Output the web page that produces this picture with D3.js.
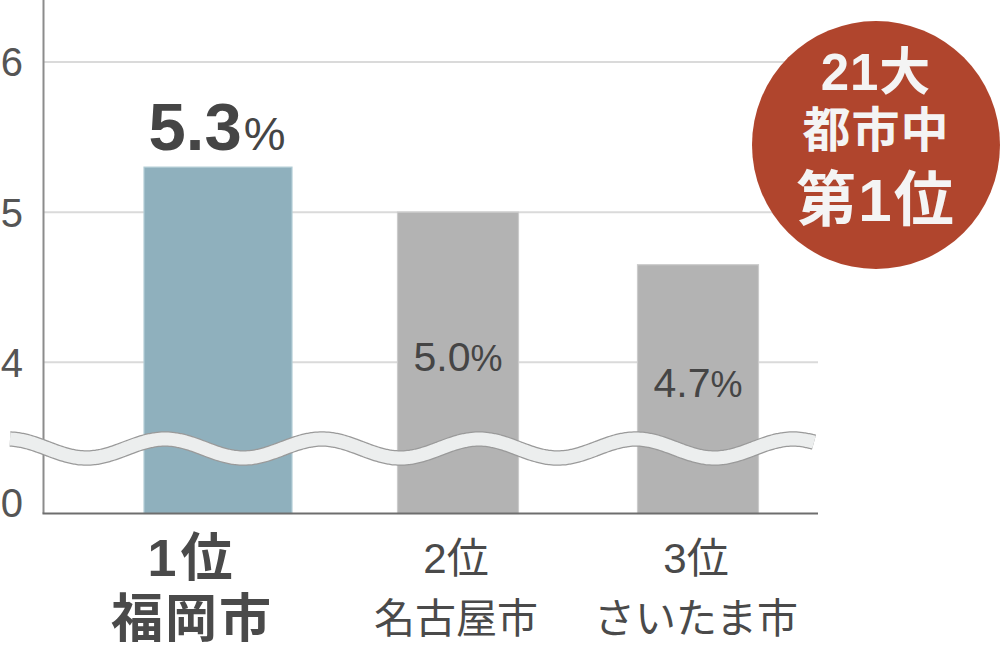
<!DOCTYPE html>
<html><head><meta charset="utf-8">
<script src="https://cdn.jsdelivr.net/npm/d3@7"></script>
<style>html,body{margin:0;padding:0;background:#fff}svg{display:block}</style>
</head><body>
<script>
// ---- data ----
const ranks = ["1位", "2位", "3位"];
const cities = ["福岡市", "名古屋市", "さいたま市"];
const values = [5.3, 5.0, 4.65];
const valueLabels = ["5.3", "5.0", "4.7"];
const yTicks = [6, 5, 4, 3];
const yTickLabels = ["6", "5", "4", "0"];
const badgeLines = ["21大", "都市中", "第1位"];

const W = 1000, H = 647;
const svg = d3.select("body").append("svg").attr("width", W).attr("height", H);
const font = "'Liberation Sans', Arial, 'Noto Sans CJK JP', sans-serif";

const x = d3.scaleBand().domain(ranks).range([98, 818]).padding(0);
const y = d3.scaleLinear().domain([3, 6]).range([512.5, 62]);
const baseY = 513.5;
const axisX = 43.5;

// gridlines
svg.append("g").selectAll("line").data(yTicks.slice(0, 3)).join("line")
  .attr("x1", axisX).attr("x2", 818)
  .attr("y1", d => y(d)).attr("y2", d => y(d))
  .attr("stroke", "#dadada").attr("stroke-width", 2);

// y tick labels
svg.append("g").selectAll("text").data(yTicks).join("text")
  .attr("x", 23).attr("y", (d, i) => i === 3 ? y(d) - 10 : y(d))
  .attr("dy", "0.36em")
  .attr("text-anchor", "end")
  .attr("font-family", font).attr("font-size", 40).attr("fill", "#555")
  .text((d, i) => yTickLabels[i]);

// bars
const bw = (i) => i === 0 ? 148 : 121;
const cx = (i) => x(ranks[i]) + x.bandwidth() / 2;
svg.append("g").selectAll("rect").data(values).join("rect")
  .attr("x", (d, i) => cx(i) - bw(i) / 2)
  .attr("width", (d, i) => bw(i))
  .attr("y", d => y(d))
  .attr("height", d => baseY - y(d))
  .attr("fill", (d, i) => i === 0 ? "#8fb0bd" : "#b3b3b3")
  .attr("stroke", (d, i) => i === 0 ? "#b3cdd6" : "#cbcbcb")
  .attr("stroke-width", 1.2);

// axis lines
svg.append("line").attr("x1", axisX).attr("x2", axisX).attr("y1", 0).attr("y2", baseY)
  .attr("stroke", "#8c8c8c").attr("stroke-width", 2);
svg.append("line").attr("x1", axisX - 1).attr("x2", 818).attr("y1", baseY).attr("y2", baseY)
  .attr("stroke", "#6e6e6e").attr("stroke-width", 2);

// wavy break
const wavePts = d3.range(10, 816, 2).map(px => [px, 448.5 - 9.5 * Math.cos(2 * Math.PI * (px - 165) / 157)]);
const waveLine = d3.line().curve(d3.curveBasis);
svg.append("path").attr("d", waveLine(wavePts)).attr("fill", "none")
  .attr("stroke", "#9a9a9a").attr("stroke-width", 15.5);
svg.append("path").attr("d", waveLine(wavePts)).attr("fill", "none")
  .attr("stroke", "#eceeee").attr("stroke-width", 13);

// value labels
const lab = svg.append("g");
values.forEach((v, i) => {
  const t = lab.append("text").attr("text-anchor", "middle").attr("font-family", font).attr("fill", "#454545");
  if (i === 0) {
    t.attr("x", cx(i) - 1).attr("y", y(v) - 17);
    t.append("tspan").attr("font-size", 67).attr("font-weight", "bold").text(valueLabels[i]);
    t.append("tspan").attr("font-size", 47).attr("font-weight", "normal").attr("dx", 2).text("%");
  } else {
    const c = (y(v) + baseY) / 2 - 7;
    t.attr("x", cx(i)).attr("y", c + 15);
    t.append("tspan").attr("font-size", 41).text(valueLabels[i]);
    t.append("tspan").attr("font-size", 36).text("%");
  }
});

// x labels
const xl = svg.append("g");
ranks.forEach((r, i) => {
  const lx = cx(i) + (i === 0 ? -26 : -2);
  const bold = i === 0;
  xl.append("text").attr("x", lx).attr("y", 558).attr("dominant-baseline", "central")
    .attr("text-anchor", "middle").attr("font-family", font)
    .attr("font-size", bold ? 52 : 42).attr("font-weight", bold ? "bold" : "normal")
    .attr("letter-spacing", bold ? 4 : 0)
    .attr("fill", "#4a4a4a").text(r);
  xl.append("text").attr("x", lx).attr("y", 619).attr("dominant-baseline", "central")
    .attr("text-anchor", "middle").attr("font-family", font)
    .attr("font-size", bold ? 52 : 41).attr("font-weight", bold ? "bold" : "normal")
    .attr("letter-spacing", bold ? 2 : 0)
    .attr("fill", "#4a4a4a").text(cities[i]);
});

// badge
const badge = svg.append("g");
badge.append("circle").attr("cx", 876).attr("cy", 145).attr("r", 124).attr("fill", "#b0452d");
const bl = [{y: 72, s: 51, ls: 1}, {y: 130, s: 48, ls: 1}, {y: 200, s: 60, ls: 2}];
badgeLines.forEach((t, i) => {
  badge.append("text").attr("x", 876).attr("y", bl[i].y).attr("dominant-baseline", "central")
    .attr("text-anchor", "middle").attr("font-family", font)
    .attr("font-size", bl[i].s).attr("font-weight", "bold")
    .attr("letter-spacing", bl[i].ls)
    .attr("fill", "#f4f4f4").text(t);
});
</script>
</body></html>
